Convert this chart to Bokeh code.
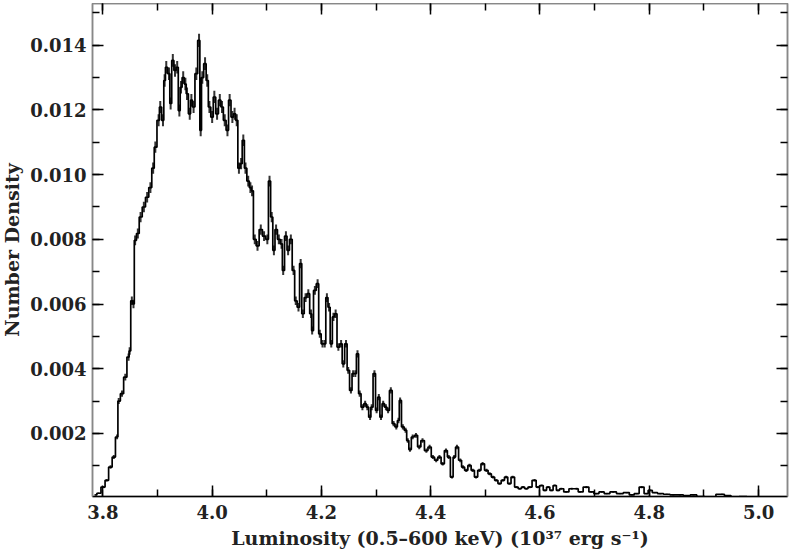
import numpy as np
from bokeh.plotting import figure
from bokeh.models import (LinearAxis, SingleIntervalTicker, PrintfTickFormatter,
                          ColumnDataSource, CustomLabelingPolicy)
from bokeh.embed import file_html
from bokeh.resources import INLINE

# Luminosity bin centres (10^37 erg/s) and number density
luminosity = [
    3.786, 3.792, 3.801, 3.807, 3.814, 3.820, 3.826, 3.829, 3.835, 3.841,
    3.847, 3.849, 3.853, 3.856, 3.859, 3.864, 3.869, 3.875, 3.881, 3.887,
    3.892, 3.896, 3.902, 3.905, 3.910, 3.913, 3.916, 3.921, 3.924, 3.928,
    3.932, 3.936, 3.940, 3.943, 3.947, 3.951, 3.954, 3.959, 3.962, 3.966,
    3.971, 3.976, 3.979, 3.982, 3.987, 3.991, 3.995, 4.000, 4.004, 4.009,
    4.014, 4.018, 4.023, 4.028, 4.032, 4.037, 4.041, 4.045, 4.049, 4.053,
    4.057, 4.061, 4.066, 4.070, 4.073, 4.078, 4.083, 4.089, 4.095, 4.101,
    4.105, 4.109, 4.113, 4.117, 4.122, 4.127, 4.130, 4.135, 4.139, 4.144,
    4.149, 4.153, 4.158, 4.162, 4.166, 4.171, 4.176, 4.181, 4.183, 4.188,
    4.193, 4.197, 4.202, 4.206, 4.210, 4.214, 4.218, 4.222, 4.226, 4.231,
    4.236, 4.240, 4.245, 4.249, 4.254, 4.258, 4.262, 4.266, 4.270, 4.275,
    4.280, 4.284, 4.289, 4.292, 4.297, 4.301, 4.305, 4.309, 4.313, 4.318,
    4.322, 4.327, 4.332, 4.337, 4.341, 4.344, 4.349, 4.354, 4.358, 4.362,
    4.367, 4.373, 4.379, 4.385, 4.392, 4.398, 4.404, 4.410, 4.416, 4.422,
    4.428, 4.433, 4.439, 4.443, 4.448, 4.454, 4.459, 4.465, 4.471, 4.477,
    4.483, 4.489, 4.495, 4.502, 4.508, 4.514, 4.520, 4.526, 4.532, 4.538,
    4.544, 4.550, 4.557, 4.563, 4.569, 4.575, 4.581, 4.590, 4.596, 4.603,
    4.609, 4.615, 4.621, 4.627, 4.633, 4.639, 4.648, 4.658, 4.667, 4.673,
    4.685, 4.694, 4.703, 4.713, 4.722, 4.734, 4.746, 4.759, 4.768, 4.777,
    4.786, 4.795, 4.801, 4.810, 4.820, 4.832, 4.844, 4.856, 4.869, 4.881,
    4.893, 4.911, 4.933, 4.942, 4.957, 4.972, 4.985,
]
density = [
    0.00010, 0.00015, 0.00034, 0.00055, 0.00096, 0.00127, 0.00189, 0.00300, 0.00323, 0.00374,
    0.00436, 0.00455, 0.00610, 0.00600, 0.00797, 0.00818, 0.00869, 0.00900, 0.00930, 0.00960,
    0.01020, 0.01085, 0.01168, 0.01209, 0.01168, 0.01291, 0.01332, 0.01312, 0.01220, 0.01353,
    0.01322, 0.01332, 0.01198, 0.01270, 0.01300, 0.01280, 0.01250, 0.01188, 0.01230, 0.01209,
    0.01312, 0.01415, 0.01137, 0.01300, 0.01343, 0.01291, 0.01209, 0.01178, 0.01240, 0.01188,
    0.01230, 0.01209, 0.01168, 0.01137, 0.01230, 0.01178, 0.01188, 0.01168, 0.01020, 0.01034,
    0.01106, 0.01020, 0.00980, 0.00960, 0.00950, 0.00800, 0.00780, 0.00830, 0.00810, 0.00800,
    0.00980, 0.00869, 0.00766, 0.00830, 0.00800, 0.00786, 0.00704, 0.00810, 0.00766, 0.00800,
    0.00704, 0.00610, 0.00590, 0.00725, 0.00570, 0.00620, 0.00632, 0.00570, 0.00518, 0.00642,
    0.00663, 0.00508, 0.00477, 0.00477, 0.00620, 0.00590, 0.00477, 0.00560, 0.00570, 0.00467,
    0.00477, 0.00415, 0.00477, 0.00395, 0.00333, 0.00385, 0.00385, 0.00446, 0.00323, 0.00281,
    0.00292, 0.00281, 0.00250, 0.00281, 0.00385, 0.00271, 0.00312, 0.00250, 0.00292, 0.00281,
    0.00271, 0.00333, 0.00230, 0.00220, 0.00240, 0.00302, 0.00220, 0.00210, 0.00178, 0.00150,
    0.00189, 0.00194, 0.00158, 0.00178, 0.00147, 0.00158, 0.00127, 0.00117, 0.00127, 0.00106,
    0.00147, 0.00127, 0.00065, 0.00127, 0.00158, 0.00117, 0.00096, 0.00086, 0.00101, 0.00086,
    0.00065, 0.00086, 0.00106, 0.00086, 0.00075, 0.00065, 0.00055, 0.00045, 0.00055, 0.00065,
    0.00045, 0.00065, 0.00034, 0.00029, 0.00034, 0.00029, 0.00034, 0.00055, 0.00034, 0.00039,
    0.00024, 0.00034, 0.00024, 0.00039, 0.00024, 0.00029, 0.00019, 0.00029, 0.00029, 0.00019,
    0.00034, 0.00019, 0.00014, 0.00019, 0.00014, 0.00019, 0.00014, 0.00017, 0.00010, 0.00014,
    0.00034, 0.00014, 0.00024, 0.00017, 0.00014, 0.00012, 0.00010, 0.00010, 0.00008, 0.00010,
    0.00005, 0.00000, 0.00012, 0.00008, 0.00000, 0.00005, 0.00000,
]

x_tick_labels = ["3.8", "4.0", "4.2", "4.4", "4.6", "4.8", "5.0"]
y_tick_labels = ["0.002", "0.004", "0.006", "0.008", "0.010", "0.012", "0.014"]

lum = np.array(luminosity)
dens = np.array(density)
err = 0.0017 * np.sqrt(dens)   # Poisson-like error bars
src = ColumnDataSource(dict(x=lum, y=dens, lo=dens - err, hi=dens + err))

FONT = "DejaVu Serif"

p = figure(width=797, height=550, x_range=(3.781, 5.053), y_range=(0.00005, 0.01529),
           output_backend="svg", toolbar_location=None,
           min_border_left=100, min_border_right=2, min_border_top=0, min_border_bottom=57,
           styles={"margin-top": "3px", "margin-left": "-8px"})
p.xgrid.visible = False
p.ygrid.visible = False
p.outline_line_color = "#888888"
p.outline_line_width = 1.5

p.segment(x0="x", y0="lo", x1="x", y1="hi", source=src, line_color="#333333", line_width=2)
p.step(x="x", y="y", source=src, mode="center", line_color="black", line_width=1.7)

HIDE = "try { for (const i of indices) { indices.unset(i) } } catch (e) {} return indices"

def style(ax, labels=True):
    ax.major_tick_in = 11
    ax.major_tick_out = 0
    ax.minor_tick_in = 7
    ax.minor_tick_out = 0
    ax.major_tick_line_color = "black"
    ax.minor_tick_line_color = "black"
    ax.major_tick_line_width = 1.5
    ax.minor_tick_line_width = 1.5
    if labels:
        ax.major_label_text_font = FONT
        ax.major_label_text_font_style = "bold"
        ax.major_label_text_font_size = "18px"
        ax.major_label_text_color = "#222222"
        ax.major_label_text_line_height = 1.0
        ax.axis_label_text_font = FONT
        ax.axis_label_text_font_style = "bold"
        ax.axis_label_text_font_size = "19px"
        ax.axis_label_text_color = "#222222"
        ax.axis_label_text_line_height = 1.0
    else:
        ax.major_label_text_font_size = "0px"
        ax.major_label_standoff = 0
        ax.major_label_policy = CustomLabelingPolicy(code=HIDE)
        ax.axis_label = None

xa = p.xaxis[0]
xa.ticker = SingleIntervalTicker(interval=0.2, num_minor_ticks=2)
xa.formatter = PrintfTickFormatter(format="%.1f")
xa.axis_label = "Luminosity (0.5\u2013600 keV) (10\u00b3\u2077 erg s\u207b\u00b9)"
xa.axis_line_color = "black"
xa.axis_line_width = 1.5
xa.major_label_standoff = 8
xa.axis_label_standoff = 5
style(xa)

ya = p.yaxis[0]
ya.ticker = SingleIntervalTicker(interval=0.002, num_minor_ticks=2)
ya.formatter = PrintfTickFormatter(format="%.3f")
ya.axis_label = "Number Density"
ya.axis_line_color = "#888888"
ya.axis_line_width = 1.5
ya.major_label_standoff = 6
ya.axis_label_standoff = 4
style(ya)

top = LinearAxis(ticker=SingleIntervalTicker(interval=0.2, num_minor_ticks=2),
                 axis_line_color="#888888", axis_line_width=1.5)
style(top, labels=False)
p.add_layout(top, "above")
right = LinearAxis(ticker=SingleIntervalTicker(interval=0.002, num_minor_ticks=2),
                   axis_line_color="#888888", axis_line_width=1.5)
style(right, labels=False)
p.add_layout(right, "right")

open("out.html", "w").write(file_html(p, INLINE))
